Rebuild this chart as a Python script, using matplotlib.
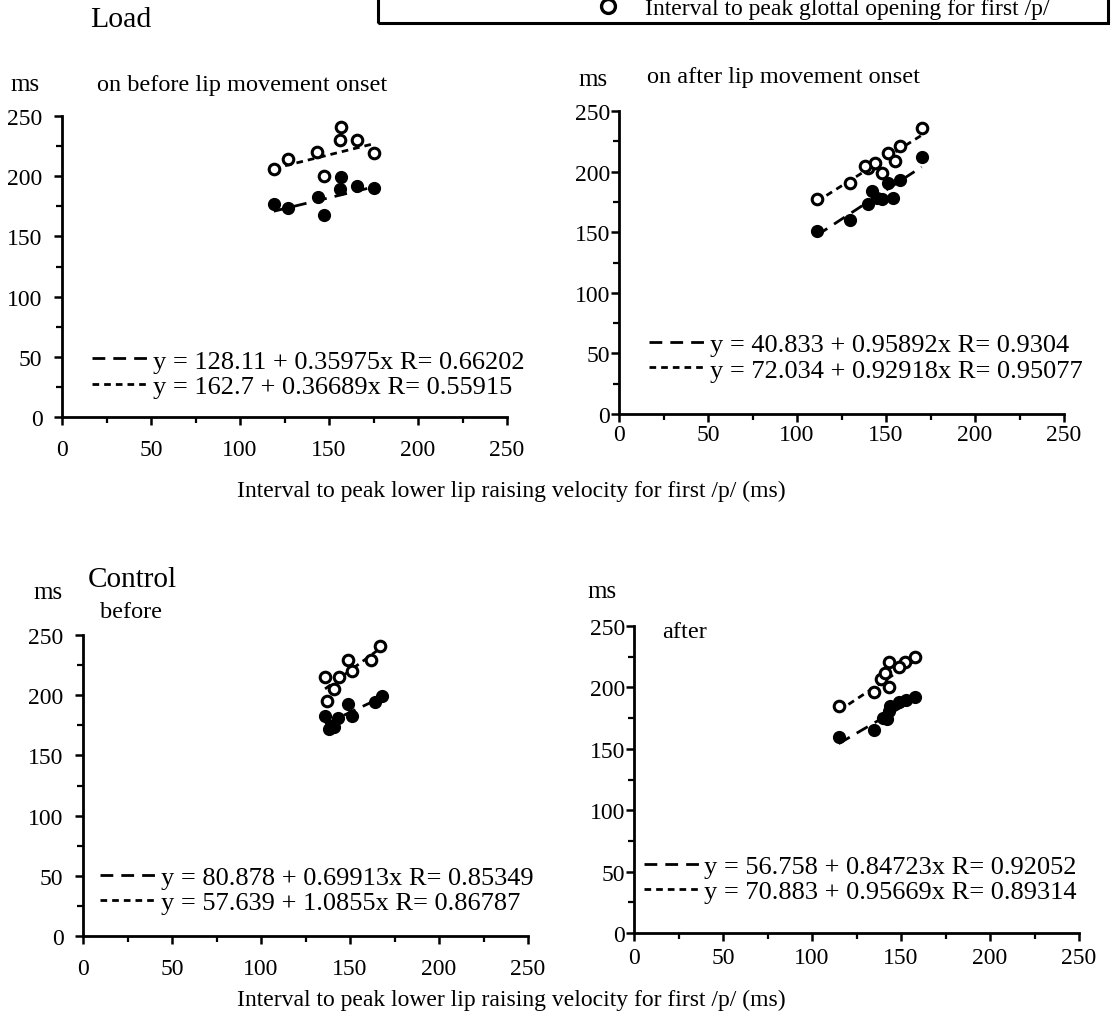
import matplotlib
matplotlib.use("Agg")
import matplotlib.pyplot as plt
from matplotlib.lines import Line2D
from matplotlib.patches import Rectangle
from matplotlib.ticker import MultipleLocator

plt.rcParams['font.family'] = ['Liberation Serif', 'DejaVu Serif']

# ---------------- data ----------------
tl_filled_x = [119, 127, 144, 157, 156, 166, 175, 147]
tl_filled_y = [177, 174, 183, 199, 189, 192, 190, 168]
tl_open_x = [119, 127, 143, 157, 156, 166, 175, 147]
tl_open_y = [206, 214, 220, 241, 230, 230, 219, 200]

tr_filled_x = [111, 130, 140, 142, 145, 148, 151, 154, 158, 170]
tr_filled_y = [151, 160, 173, 184, 178, 177, 191, 178, 193, 212]
tr_open_x = [111, 130, 140, 144, 148, 151, 155, 158, 170, 138]
tr_open_y = [177, 191, 203, 207, 199, 215, 209, 221, 236, 205]

bl_filled_x = [136, 143, 138, 141, 149, 151, 164, 168]
bl_filled_y = [183, 181, 172, 174, 193, 183, 194, 199]
bl_open_x = [167, 162, 149, 151, 144, 136, 141, 137]
bl_open_y = [241, 229, 229, 220, 215, 215, 205, 195]

br_filled_x = [115, 135, 140, 142, 144, 143, 153, 158, 149]
br_filled_y = [160, 165, 175, 174, 185, 181, 190, 192, 188]
br_open_x = [115, 135, 139, 143, 143, 141, 152, 158, 149]
br_open_y = [185, 196, 207, 200, 221, 212, 221, 225, 217]

# regression: (intercept, slope, R) for filled (long dash) and open (short dash)
tl_fit = [(128.11, 0.35975, "0.66202"), (162.7, 0.36689, "0.55915")]
tr_fit = [(40.833, 0.95892, "0.9304"), (72.034, 0.92918, "0.95077")]
bl_fit = [(80.878, 0.69913, "0.85349"), (57.639, 1.0855, "0.86787")]
br_fit = [(56.758, 0.84723, "0.92052"), (70.883, 0.95669, "0.89314")]

tick_values = [0, 50, 100, 150, 200, 250]
xlabel_text = "Interval to peak lower lip raising velocity for first /p/ (ms)"
legend_text = "Interval to peak glottal opening for first /p/"

# ---------------- layout ----------------
W, H = 1112, 1020
fig = plt.figure(figsize=(W / 100, H / 100), dpi=100)


def rect(left, right, top, bottom):
    return [left / W, 1 - bottom / H, (right - left) / W, (bottom - top) / H]


def fmt_eq(a, b, r):
    def g(v):
        return ("%.5f" % v).rstrip('0').rstrip('.')
    return "y = %s + %sx R= %s" % (g(a), g(b), r)


LONG = (0, (4.6, 2.9))
SHORT = (0, (2.4, 1.8))


def panel(r, fx, fy, ox, oy, fit, leg_anchor, ypad, xpad):
    ax = fig.add_axes(r)
    ax.set_xlim(0, 250)
    ax.set_ylim(0, 250)
    for s in ['top', 'right']:
        ax.spines[s].set_visible(False)
    for s in ['left', 'bottom']:
        ax.spines[s].set_linewidth(2.0)
    ax.set_xticks(tick_values)
    ax.set_yticks(tick_values)
    ax.xaxis.set_minor_locator(MultipleLocator(25))
    ax.yaxis.set_minor_locator(MultipleLocator(25))
    ax.tick_params(which='major', direction='out', length=6, width=1.8,
                   labelsize=17)
    ax.tick_params(axis='y', which='major', pad=ypad)
    ax.tick_params(axis='x', which='major', pad=xpad)
    ax.tick_params(which='minor', direction='out', length=4, width=1.6)
    ax.patch.set_alpha(0)

    handles = []
    for (a, b, rr), xs, ls in ((fit[0], fx, LONG), (fit[1], ox, SHORT)):
        x0, x1 = min(xs), max(xs)
        ln, = ax.plot([x0, x1], [a + b * x0, a + b * x1], color='black',
                      lw=2.0, linestyle=ls, zorder=2)
        handles.append(ln)
    ax.scatter(fx, fy, s=72, color='black', zorder=3)
    ax.scatter(ox, oy, s=58, facecolor='white', edgecolor='black',
               linewidths=2.2, zorder=4)
    labels = [fmt_eq(*fit[0]), fmt_eq(*fit[1])]
    ax.legend(handles, labels, loc='center left', bbox_to_anchor=leg_anchor,
              frameon=False, fontsize=19, handlelength=2.1,
              handletextpad=0.2, labelspacing=0.08, borderpad=0,
              borderaxespad=0)
    return ax


ax_tl = panel(rect(62, 507, 117, 418), tl_filled_x, tl_filled_y,
              tl_open_x, tl_open_y, tl_fit, (0.067, 0.144), 8, 10)
ax_tr = panel(rect(619, 1064, 112, 415), tr_filled_x, tr_filled_y,
              tr_open_x, tr_open_y, tr_fit, (0.068, 0.188), 0.5, 1)
ax_bl = panel(rect(83, 528, 636, 937), bl_filled_x, bl_filled_y,
              bl_open_x, bl_open_y, bl_fit, (0.038, 0.153), 8, 10)
ax_br = panel(rect(634, 1079, 627, 934), br_filled_x, br_filled_y,
              br_open_x, br_open_y, br_fit, (0.022, 0.176), 0.5, 4)


def ftext(x, y, s, size, ha='left', va='center'):
    fig.text(x / W, 1 - y / H, s, fontsize=size, ha=ha, va=va)


ftext(90, 20, "Load", 21.5)
ftext(10, 85, "ms", 18)
ftext(97, 85, "on before lip movement onset", 17.5)
ftext(578, 80, "ms", 18)
ftext(647, 78, "on after lip movement onset", 17.5)
ftext(511, 491, xlabel_text, 17, ha='center')

ftext(33, 593, "ms", 18)
ftext(88, 580, "Control", 21)
ftext(100, 613, "before", 17.5)
ftext(587, 592, "ms", 18)
ftext(662, 632, "after", 17.5)
ftext(511, 1000, xlabel_text, 17, ha='center')

# top legend box (partly cut off at the top edge)
box = Rectangle((378 / W, 1 - 24 / H), (1108 - 378) / W, 60 / H,
                transform=fig.transFigure, fill=False, lw=2.2,
                edgecolor='black', clip_on=False)
fig.add_artist(box)
fig.add_artist(Line2D([608 / W], [1 - 7 / H], marker='o', markersize=10,
                      markerfacecolor='white', markeredgecolor='black',
                      markeredgewidth=2.4, transform=fig.transFigure))
fig.text(645 / W, 1 - 15 / H, legend_text, fontsize=17, ha='left',
         va='baseline')

fig.savefig("out.png", dpi=100)
